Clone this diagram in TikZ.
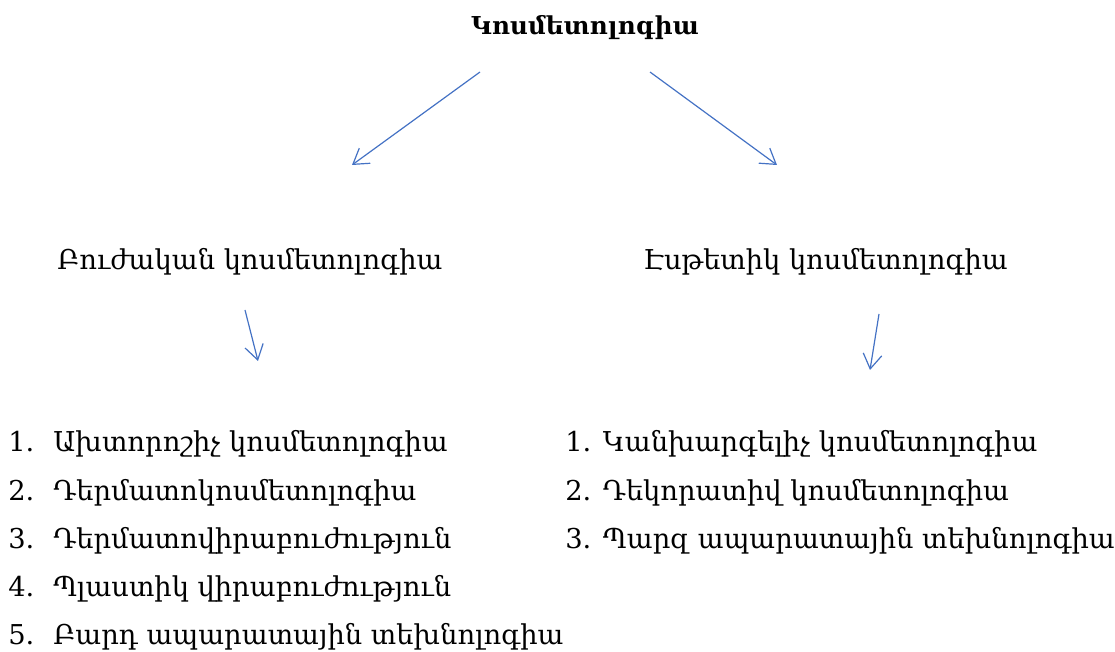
\documentclass[tikz,border=0pt]{standalone}
\usepackage{fontspec}
\setmainfont{DejaVu Serif}
\usetikzlibrary{positioning,arrows.meta}
\definecolor{arrblue}{HTML}{4472C4}

\begin{document}
\begin{tikzpicture}[x=0.75pt,y=-0.75pt,font=\fontsize{20.5}{24}\selectfont,
  every node/.style={inner sep=0pt},
  arr/.style={draw=arrblue,line width=0.9pt,-{Straight Barb[length=11pt,width=14pt]}}]
\useasboundingbox (0,0) rectangle (1115,652);
% heading
\node[font=\fontsize{18.5}{21}\selectfont\bfseries] (kosm) at (585,28) {Կոսմետոլոգիա};
\node[anchor=base west] (bujak) at (57,270) {Բուժական կոսմետոլոգիա};
\node[anchor=base west] (estet) at (643,270) {Էսթետիկ կոսմետոլոգիա};
% arrow ends
\coordinate (k1) at (480,72);  \coordinate (b1) at (352,165);
\coordinate (k2) at (650,72);  \coordinate (e1) at (777,165);
\coordinate (b2) at (245,310); \coordinate (b3) at (258,361);
\coordinate (e2) at (879,314); \coordinate (e3) at (870,370);
\draw[arr] (k1) -- (b1);
\draw[arr] (k2) -- (e1);
\draw[arr] (b2) -- (b3);
\draw[arr] (e2) -- (e3);
% left list
\foreach \t [count=\i] in {Ախտորոշիչ կոսմետոլոգիա,Դերմատոկոսմետոլոգիա,Դերմատովիրաբուժություն,Պլաստիկ վիրաբուժություն,Բարդ ապարատային տեխնոլոգիա}{
  \node[anchor=base west] (lnum\i) at (8,{404+48*\i}) {\i.};
  \node[anchor=base west] (litem\i) at (53,{404+48*\i}) {\t};
}
% right list
\foreach \t [count=\i] in {Կանխարգելիչ կոսմետոլոգիա,Դեկորատիվ կոսմետոլոգիա,Պարզ ապարատային տեխնոլոգիա}{
  \node[anchor=base west] (ritem\i) at (565,{404+48*\i}) {\i. \t};
}
\end{tikzpicture}
\end{document}
